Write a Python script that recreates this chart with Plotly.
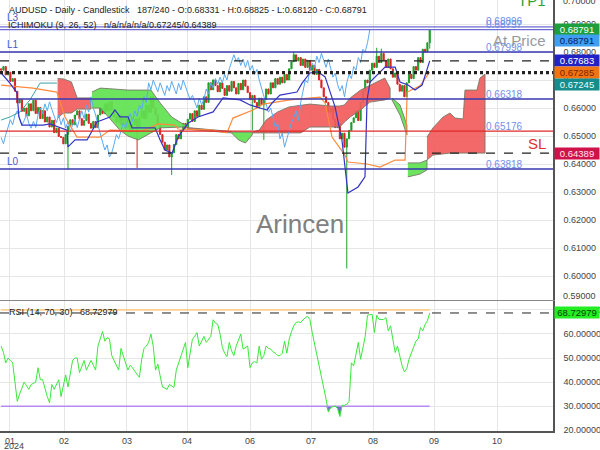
import plotly.graph_objects as go
import numpy as np

# ---------------- data ----------------
closes = [
    0.6735, 0.6748, 0.6718, 0.6728, 0.6695, 0.6705, 0.6660, 0.6618, 0.6630, 0.6588,
    0.6600, 0.6572, 0.6615, 0.6590, 0.6628, 0.6580, 0.6602, 0.6562, 0.6590, 0.6550,
    0.6568, 0.6532, 0.6556, 0.6512, 0.6528, 0.6498, 0.6495, 0.6472, 0.6505, 0.6535,
    0.6558, 0.6540, 0.6575, 0.6590, 0.6562, 0.6538, 0.6555, 0.6578, 0.6545, 0.6528,
    0.6552, 0.6530, 0.6575, 0.6600, 0.6580, 0.6615, 0.6590, 0.6622, 0.6595, 0.6570,
    0.6548, 0.6575, 0.6540, 0.6565, 0.6528, 0.6552, 0.6515, 0.6540, 0.6560, 0.6530,
    0.6565, 0.6590, 0.6562, 0.6610, 0.6585, 0.6640, 0.6600, 0.6575, 0.6540, 0.6505,
    0.6478, 0.6450, 0.6468, 0.6425, 0.6440, 0.6470, 0.6505, 0.6490, 0.6520, 0.6545,
    0.6528, 0.6560, 0.6580, 0.6552, 0.6590, 0.6570, 0.6610, 0.6595, 0.6640, 0.6620,
    0.6690, 0.6665, 0.6700, 0.6680, 0.6658, 0.6690, 0.6670, 0.6645, 0.6680, 0.6660,
    0.6695, 0.6672, 0.6650, 0.6688, 0.6665, 0.6700, 0.6678, 0.6655, 0.6630, 0.6645,
    0.6620, 0.6600, 0.6635, 0.6612, 0.6630, 0.6668, 0.6650, 0.6690, 0.6672, 0.6705,
    0.6685, 0.6710, 0.6690, 0.6720, 0.6700, 0.6740, 0.6765, 0.6790, 0.6768, 0.6780,
    0.6752, 0.6775, 0.6745, 0.6770, 0.6735, 0.6752, 0.6720, 0.6738, 0.6700, 0.6672,
    0.6640, 0.6620, 0.6585, 0.6600, 0.6560, 0.6530, 0.6545, 0.6490, 0.6510, 0.6460,
    0.6490, 0.6520, 0.6548, 0.6565, 0.6590, 0.6555, 0.6620, 0.6660, 0.6700, 0.6690,
    0.6735, 0.6760, 0.6745, 0.6785, 0.6762, 0.6795, 0.6770, 0.6745, 0.6775, 0.6740,
    0.6710, 0.6725, 0.6685, 0.6660, 0.6680, 0.6640, 0.6690, 0.6720, 0.6705, 0.6748,
    0.6735, 0.6780, 0.6762, 0.6810, 0.6800, 0.68331, 0.68791,
]
first_open = 0.6740
low_wicks = {29: 0.6380, 59: 0.6386, 74: 0.6361, 109: 0.6521, 114: 0.6486,
             150: 0.6027, 186: 0.68120}
high_wicks = {92: 0.6702, 127: 0.6800, 163: 0.6815, 165: 0.6812, 186: 0.68825}

rsi = [
    55, 52.3, 48, 50, 49, 48, 40, 32, 35, 38,
    40, 38.5, 37, 39, 39.5, 40, 46, 41, 41, 37,
    34, 31.5, 39, 37, 39, 41, 34, 39, 43, 38,
    44, 49, 50, 50, 44, 47, 49, 45, 47, 49,
    47, 45, 55, 58, 61, 57, 58.5, 58, 51, 49,
    47, 45, 54, 51, 48, 45, 47, 46, 44.5, 43,
    42, 49.5, 54, 55, 56.5, 60, 55, 45, 47.5, 42.6,
    38, 37.5, 37, 39, 38.5, 37.8, 45, 48, 50, 53,
    56.5, 46, 52, 57.8, 59, 60.6, 55, 57, 59, 56.5,
    58, 59, 65.9, 64.5, 64, 60, 54.4, 52, 50.6, 56.5,
    53, 51, 55, 57.5, 60, 53.7, 54.5, 55, 46, 48,
    48.5, 48, 55, 49.5, 51, 55, 54, 53.7, 52.6, 52,
    51, 51, 52, 57, 52, 57.8, 61, 63.4, 64.8, 65,
    64.8, 66, 66.8, 67.3, 66, 60.6, 56, 52.3, 46.8, 43,
    39, 33, 27.6, 29.4, 29.8, 30.1, 29, 25.7, 30.4, 30.4,
    30.8, 32, 48, 46.8, 51.6, 56.5, 49.5, 54, 59, 67.8,
    68, 68.2, 60.6, 67.8, 66, 66, 66, 66.8, 61.3, 63.4,
    58, 52.3, 55, 51, 46.8, 44.3, 45.5, 49.5, 52, 54,
    57, 58, 62.7, 61.3, 64, 65.5, 68.73,
]

tenkan_x = [0, 3.8, 6.9, 7.7, 9, 18.2, 21.2, 25.5, 28.6, 29, 32.1, 37.3, 41.6, 47.2, 49.4,
            51.6, 55.1, 56.8, 66.8, 69, 71.1, 74.2, 76.8, 81.1, 85.4, 92, 96.3, 103.7, 108,
            112.3, 115.4, 117.6, 121, 128.4, 130.6, 134, 137.5, 140.6, 144.9, 147.9, 150.5,
            154.9, 157.9, 158.8, 160.1, 166.6, 171, 173.1, 176.6, 179.6, 182.7, 186]
tenkan_y = [0.6725, 0.6689, 0.6654, 0.6568, 0.6539, 0.6539, 0.6543, 0.6529, 0.6521, 0.6461,
            0.6486, 0.6486, 0.6550, 0.6568, 0.6593, 0.6568, 0.6568, 0.6529, 0.6529, 0.6486,
            0.6450, 0.6439, 0.6496, 0.6546, 0.6568, 0.6586, 0.6636, 0.6629, 0.6611, 0.6600,
            0.6593, 0.6618, 0.6646, 0.6657, 0.6689, 0.6725, 0.6729, 0.6711, 0.6604, 0.6486,
            0.6296, 0.6318, 0.6354, 0.6629, 0.6693, 0.6746, 0.6746, 0.6693, 0.6682, 0.6664,
            0.6682, 0.67683]

kijun_x = [0, 13.8, 24.2, 27.7, 32.9, 42.9, 47.2, 61.1, 64.6, 68.1, 75.5, 76.8, 91.5, 98,
           100.6, 109.3, 113.7, 125.4, 138.4, 140.6, 143.6, 149.2, 150.5, 158.8, 164.4, 171,
           175.3, 176.2, 181.8, 186]
kijun_y = [0.6682, 0.6671, 0.6657, 0.6568, 0.6496, 0.6496, 0.6521, 0.6518, 0.6529, 0.6543,
           0.6539, 0.6525, 0.6521, 0.6511, 0.6564, 0.6593, 0.6614, 0.6629, 0.6639, 0.6618,
           0.6496, 0.6432, 0.6407, 0.6400, 0.6389, 0.6414, 0.6414, 0.6657, 0.6679, 0.67285]

teal_x = [0, 3.8, 8.2, 12.5, 16.9, 24.2]
teal_y = [0.6557, 0.6568, 0.6586, 0.6629, 0.6689, 0.6689]

# cloud segments: x, upper edge, lower edge
red1_x = [24.5, 27, 30.5, 33, 39]
red1_top = [0.6705, 0.6704, 0.6693, 0.6636, 0.6636]
red1_bot = [0.6564, 0.6582, 0.6582, 0.6596, 0.6596]

green1_x = [39.4, 43, 47, 51.5, 55, 59.5, 65, 69, 74, 78.5, 81]
green1_top = [0.6657, 0.6671, 0.6669, 0.6666, 0.6664, 0.6664, 0.6664, 0.6618, 0.6568, 0.6545, 0.6536]
green1_bot = [0.6600, 0.6600, 0.6564, 0.6521, 0.6500, 0.6486, 0.6511, 0.6529, 0.6530, 0.6532, 0.6536]

thin_x = [81, 100]
thin_top = [0.6530, 0.6516]
thin_bot = [0.6524, 0.6511]

green2_x = [100, 103, 106, 109]
green2_top = [0.6514, 0.6514, 0.6514, 0.6514]
green2_bot = [0.6511, 0.6486, 0.6475, 0.6504]

red2_x = [109, 112, 115, 120, 125, 130, 134, 143, 147, 149, 151.5, 156, 160, 162.5, 166.5, 168.8]
red2_top = [0.6514, 0.6521, 0.6557, 0.6586, 0.6604, 0.6610, 0.6614, 0.6607, 0.6607, 0.6611,
            0.6636, 0.6664, 0.6680, 0.6689, 0.6707, 0.6671]
red2_bot = [0.6511, 0.6511, 0.6511, 0.6511, 0.6511, 0.6511, 0.6532, 0.6532, 0.6532, 0.6550,
            0.6568, 0.6593, 0.6621, 0.6625, 0.6629, 0.6636]

green3_x = [169.6, 173.1, 176.1]
green3_top = [0.6636, 0.6611, 0.6539]
green3_bot = [0.6629, 0.6575, 0.6504]

green4_x = [176.5, 181.8, 184.8]
green4_top = [0.6404, 0.6404, 0.6414]
green4_bot = [0.6354, 0.6364, 0.6379]

red3_x = [184.8, 187.4, 191.8, 194.8, 197, 200.5, 201.3, 206.5, 207.8, 210]
red3_top = [0.6496, 0.6529, 0.6568, 0.6582, 0.6564, 0.6561, 0.6664, 0.6664, 0.6707, 0.6721]
red3_bot = [0.6414, 0.6432, 0.6436, 0.6439, 0.6439, 0.6439, 0.6439, 0.6439, 0.6439, 0.6439]

level_blue = [0.67998, 0.66318, 0.63818]
level_blue_text = ["0.67998", "0.66318", "0.63818"]
level_light = [0.68896, 0.68797]
level_light_text = ["0.68896", "0.68797"]
level_red = 0.65176
level_dash = [0.67683, 0.64389]
level_dot = [0.67285, 0.67245]
last_close = 0.68791
rsi_last = 68.72979

month_pos = [3.8, 27.3, 54.6, 80.7, 108, 134.5, 161.4, 187.9, 215.2]
month_text = ["01", "02", "03", "04", "06", "07", "08", "09", "10"]
year_text = "2024"
price_ticks = [0.60, 0.61, 0.62, 0.63, 0.64, 0.65, 0.66, 0.67, 0.68, 0.69]
rsi_ticks = [20, 30, 40, 50, 60, 70]

# ---------------- build ----------------
n = len(closes)
bars = list(range(n))
opens = [first_open] + closes[:-1]
highs = [high_wicks.get(i, max(o, c)) for i, (o, c) in enumerate(zip(opens, closes))]
lows = [low_wicks.get(i, min(o, c)) for i, (o, c) in enumerate(zip(opens, closes))]

FONT = "Liberation Sans, Arial, sans-serif"
W, H = 553.0, 431.0


def px(x):
    return x / W


def py(y):
    return 1 - y / H


fig = go.Figure()

RED_FILL = "rgba(242,92,92,0.92)"
GREEN_FILL = "rgba(96,226,80,0.92)"
clouds = [
    (red1_x, red1_top, red1_bot, RED_FILL),
    (green1_x, green1_top, green1_bot, GREEN_FILL),
    (thin_x, thin_top, thin_bot, RED_FILL),
    (green2_x, green2_top, green2_bot, GREEN_FILL),
    (red2_x, red2_top, red2_bot, RED_FILL),
    (green3_x, green3_top, green3_bot, GREEN_FILL),
    (green4_x, green4_top, green4_bot, GREEN_FILL),
    (red3_x, red3_top, red3_bot, RED_FILL),
]
for xs, top, bot, col in clouds:
    fig.add_trace(go.Scatter(
        x=xs + xs[::-1], y=top + bot[::-1], mode="lines", fill="toself",
        fillcolor=col, line=dict(color="rgba(120,120,105,0.9)", width=1),
        hoverinfo="skip", xaxis="x", yaxis="y"))

fig.add_trace(go.Candlestick(
    x=bars, open=opens, high=highs, low=lows, close=closes,
    increasing=dict(line=dict(color="#1f9e2a", width=1), fillcolor="#1f9e2a"),
    decreasing=dict(line=dict(color="#d92525", width=1), fillcolor="#d92525"),
    whiskerwidth=0, xaxis="x", yaxis="y"))

# chikou span: closes plotted 26 bars back
fig.add_trace(go.Scatter(x=[i - 26 for i in bars[26:]], y=closes[26:], mode="lines",
                         line=dict(color="#5aaaf0", width=1), xaxis="x", yaxis="y"))
fig.add_trace(go.Scatter(x=teal_x, y=teal_y, mode="lines",
                         line=dict(color="#3aa3a8", width=1), xaxis="x", yaxis="y"))
fig.add_trace(go.Scatter(x=kijun_x, y=kijun_y, mode="lines",
                         line=dict(color="#ff8a3c", width=1.2), xaxis="x", yaxis="y"))
fig.add_trace(go.Scatter(x=tenkan_x, y=tenkan_y, mode="lines",
                         line=dict(color="#3434c4", width=1.2), xaxis="x", yaxis="y"))

# RSI pane
rsi_floor = [30] * n
fig.add_trace(go.Scatter(x=bars, y=rsi_floor, mode="lines",
                         line=dict(color="#b48cf0", width=1.6), xaxis="x2", yaxis="y2"))
fig.add_trace(go.Scatter(x=bars, y=list(np.minimum(rsi, 30)), mode="lines", fill="tonexty",
                         fillcolor="#7a68d8", line=dict(width=0, color="rgba(0,0,0,0)"),
                         xaxis="x2", yaxis="y2"))
fig.add_trace(go.Scatter(x=[0, n - 1], y=[70, 70], mode="lines",
                         line=dict(color="#ffcf90", width=1.6), xaxis="x2", yaxis="y2"))
fig.add_trace(go.Scatter(x=bars, y=rsi, mode="lines",
                         line=dict(color="#3ae83a", width=1), xaxis="x2", yaxis="y2"))

shapes = []
for v in level_light:
    shapes.append(dict(type="line", xref="paper", x0=0, x1=1, yref="y", y0=v, y1=v,
                       line=dict(color="#6b6bd2", width=1.2)))
for v in level_blue:
    shapes.append(dict(type="line", xref="paper", x0=0, x1=1, yref="y", y0=v, y1=v,
                       line=dict(color="#3838b0", width=1.5)))
shapes.append(dict(type="line", xref="paper", x0=0, x1=1, yref="y", y0=level_red, y1=level_red,
                   line=dict(color="#e02828", width=1.2)))
for v in level_dash:
    shapes.append(dict(type="line", xref="paper", x0=0, x1=1, yref="y", y0=v, y1=v,
                       line=dict(color="#222", width=1.2, dash="dash")))
for v in level_dot:
    shapes.append(dict(type="line", xref="paper", x0=0, x1=1, yref="y", y0=v, y1=v,
                       line=dict(color="#222", width=2, dash="dot")))
shapes.append(dict(type="line", xref="paper", x0=0, x1=1, yref="y2", y0=rsi_last, y1=rsi_last,
                   line=dict(color="#222", width=1, dash="dash")))

ann = []


def text(t, x, y, size=9, color="#222", xanchor="left", **kw):
    ann.append(dict(text=t, x=px(x), y=py(y), xref="paper", yref="paper", showarrow=False,
                    xanchor=xanchor, yanchor="middle", font=dict(family=FONT, size=size, color=color),
                    **kw))


text("AUDUSD - Daily - Candlestick   187/240 - O:0.68331 - H:0.68825 - L:0.68120 - C:0.68791",
     7, 10)
text("ICHIMOKU (9, 26, 52)   n/a/n/a/n/a/0.67245/0.64389", 6, 25)
text("RSI (14, 70, 30)   68.72979", 7, 312)
text("Arincen", 300, 224, size=26, color="#808080", xanchor="center")
text("TP1", 548, 1, size=15, color="#2ea52e", xanchor="right")
text("At Price", 548, 41, size=15, color="#9a9a9a", xanchor="right")
text("SL", 548, 143, size=15, color="#e03030", xanchor="right")
text("0.70000", 561, 1, size=9, color="#444")
text("0.59000", 561, 296, size=9, color="#444")
text(year_text, 2, 446.5, size=9, color="#444")

for lab, v in zip(["L1", "", "L0"], level_blue):
    if lab:
        ann.append(dict(text=lab, x=px(5), y=v, xref="paper", yref="y", showarrow=False,
                        xanchor="left", yanchor="middle", yshift=8,
                        font=dict(family=FONT, size=10, color="#4a58cc")))
ann.append(dict(text="L3", x=px(5), y=level_light[0], xref="paper", yref="y", showarrow=False,
                xanchor="left", yanchor="middle", yshift=9,
                font=dict(family=FONT, size=10, color="#4a58cc")))
for t, v in zip(level_blue_text + level_light_text + ["0.65176"],
                level_blue + level_light + [level_red]):
    ann.append(dict(text=t, x=px(504), y=v, xref="paper", yref="y", showarrow=False,
                    xanchor="center", yanchor="middle", yshift=5,
                    font=dict(family=FONT, size=10, color="#7090e8")))

tags = [
    ("0.68791", last_close, 0, "#1f9e3c", "#ffffff", "y"),
    ("0.68791", last_close, -11, "#3e9ef0", "#0b1a5e", "y"),
    ("0.67683", level_dash[0], 0, "#2222c4", "#ffffff", "y"),
    ("0.67285", level_dot[0], 0, "#f07412", "#7a2400", "y"),
    ("0.67245", level_dot[1], -11, "#178c8c", "#e6ffff", "y"),
    ("0.64389", level_dash[1], 0, "#d0124a", "#ffe6ee", "y"),
    ("68.72979", rsi_last, 0, "#22ee22", "#064406", "y2"),
]
for t, v, sh, bg, fg, yr in tags:
    ann.append(dict(text=t, x=px(554), y=v, xref="paper", yref=yr, showarrow=False,
                    xanchor="left", yanchor="middle", yshift=sh, bgcolor=bg, borderpad=0,
                    width=44, height=11, align="center",
                    font=dict(family=FONT, size=9.5, color=fg)))

grid = "#e6e6e6"
fig.update_layout(
    width=600, height=450, margin=dict(l=0, r=47, t=0, b=19, autoexpand=False),
    paper_bgcolor="white", plot_bgcolor="white", showlegend=False,
    font=dict(family=FONT, size=10, color="#333"),
    xaxis=dict(domain=[0, 1], anchor="y", range=[-0.5, 239.5], tickvals=month_pos,
               showticklabels=False, showgrid=True, gridcolor=grid, zeroline=False,
               rangeslider=dict(visible=False), showline=True, linecolor="#888", linewidth=1,
               automargin=False),
    xaxis2=dict(domain=[0, 1], anchor="y2", range=[-0.5, 239.5], tickvals=month_pos,
                ticktext=month_text, showgrid=True, gridcolor=grid, zeroline=False,
                showline=True, linecolor="#555", linewidth=1.5, ticklabeloverflow="allow",
                tickfont=dict(size=9, color="#444"), automargin=False),
    yaxis=dict(domain=[1 - 300 / H, 1], anchor="x", side="right", range=[0.59143, 0.69857],
               tickvals=price_ticks, tickformat=".5f", showgrid=True, gridcolor=grid,
               zeroline=False, showline=True, linecolor="#555", linewidth=1.5,
               ticks="outside", ticklen=7, tickcolor="rgba(0,0,0,0)",
               tickfont=dict(size=9, color="#444"), automargin=False),
    yaxis2=dict(domain=[0, 130 / H], anchor="x2", side="right", range=[19.7, 73.7],
                tickvals=rsi_ticks, tickformat=".5f", showgrid=True, gridcolor=grid,
                zeroline=False, showline=True, linecolor="#555", linewidth=1.5,
                ticks="outside", ticklen=7, tickcolor="rgba(0,0,0,0)",
                tickfont=dict(size=9, color="#444"), automargin=False),
    shapes=shapes, annotations=ann,
)

fig.write_html("out.html")
